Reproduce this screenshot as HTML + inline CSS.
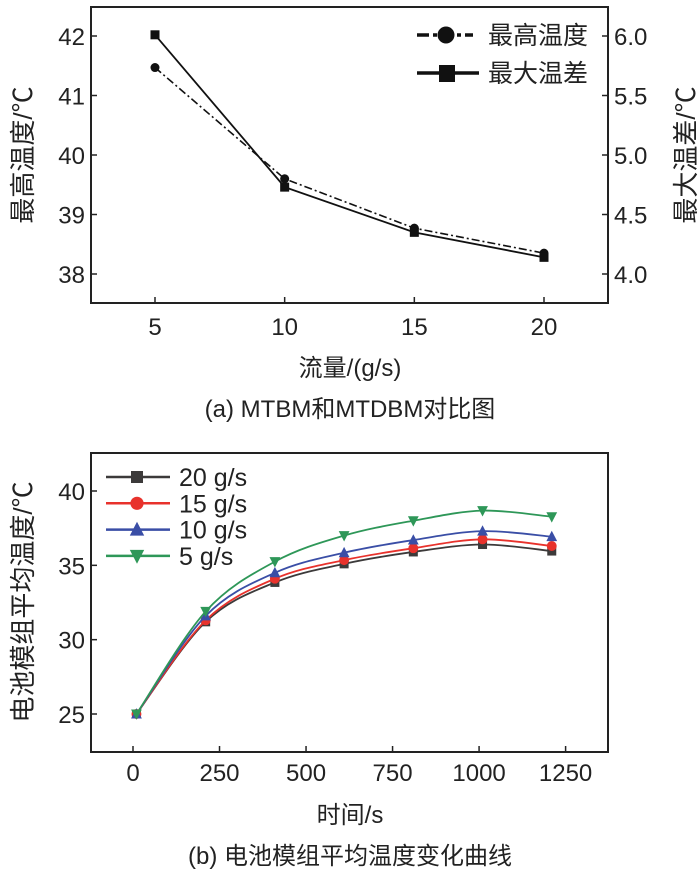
<!DOCTYPE html>
<html><head><meta charset="utf-8"><style>
body{margin:0;background:#fff;}
svg{display:block;font-family:"Liberation Sans","Noto Sans CJK SC",sans-serif;}
text{fill:#222;}
.cj{font-family:"Liberation Serif","Noto Serif CJK SC",serif;}
</style></head><body>
<svg width="700" height="872" viewBox="0 0 700 872">
<g id="top"></g>
<g id="bot"></g>
</svg>
<script>
// Chart (a) data
const flowCats = [5, 10, 15, 20];
const maxTemp = [41.47, 39.6, 38.77, 38.35];
const maxDiff = [6.01, 4.73, 4.35, 4.14];
const leftTicks = [38, 39, 40, 41, 42];
const rightTicks = ["4.0", "4.5", "5.0", "5.5", "6.0"];
const xTicksA = [5, 10, 15, 20];
// Chart (b) data
const times = [10, 210, 410, 610, 810, 1010, 1210];
const seriesNames = ["20 g/s", "15 g/s", "10 g/s", "5 g/s"];
const s20 = [25, 31.2, 33.85, 35.1, 35.9, 36.4, 35.96];
const s15 = [25, 31.3, 34.1, 35.35, 36.15, 36.75, 36.3];
const s10 = [25, 31.6, 34.5, 35.85, 36.7, 37.3, 36.93];
const s5 = [25, 31.9, 35.25, 37.0, 38.0, 38.68, 38.27];
const yTicksB = [25, 30, 35, 40];
const xTicksB = [0, 250, 500, 750, 1000, 1250];

const NS = "http://www.w3.org/2000/svg";
function mk(parent, tag, attrs, txt){
  const e = document.createElementNS(NS, tag);
  for (const k in attrs) e.setAttribute(k, attrs[k]);
  if (txt !== undefined) e.textContent = txt;
  parent.appendChild(e);
  return e;
}
function smooth(pts){
  let d = "M" + pts[0][0] + "," + pts[0][1];
  for (let i = 0; i < pts.length - 1; i++){
    const p0 = pts[i-1] || pts[i], p1 = pts[i], p2 = pts[i+1], p3 = pts[i+2] || p2;
    const c1 = [p1[0] + (p2[0]-p0[0])/6, p1[1] + (p2[1]-p0[1])/6];
    const c2 = [p2[0] - (p3[0]-p1[0])/6, p2[1] - (p3[1]-p1[1])/6];
    d += " C" + c1 + " " + c2 + " " + p2;
  }
  return d;
}

// ---------- Chart A ----------
const A = document.getElementById("top");
const ax = v => 155 + (v - 5) * (544 - 155) / 15;
const ayL = v => 274 - (v - 38) * (274 - 36) / 4;
const ayR = v => 274 - (v - 4) * (274 - 36) / 2;
let e = mk(A, "rect", {x:91, y:7, width:517, height:296, fill:"none", stroke:"#222", "stroke-width":2});


leftTicks.forEach(t => {
  const y = ayL(t);
  let l = mk(A, "line", {x1:91, x2:97, y1:y, y2:y, stroke:"#222", "stroke-width":1.5});
  
  
  let tx = mk(A, "text", {x:85, y:y+9, "font-size":24, "text-anchor":"end"}, t);
  
  
});
rightTicks.forEach(t => {
  const y = ayR(parseFloat(t));
  let l = mk(A, "line", {x1:602, x2:608, y1:y, y2:y, stroke:"#222", "stroke-width":1.5});
  
  
  let tx = mk(A, "text", {x:614, y:y+9, "font-size":24}, t);
  
  
});
xTicksA.forEach(t => {
  const x = ax(t);
  let l = mk(A, "line", {x1:x, x2:x, y1:297, y2:303, stroke:"#222", "stroke-width":1.5});
  
  
  let tx = mk(A, "text", {x:x, y:335, "font-size":24, "text-anchor":"middle"}, t);
  
  
});
e = mk(A, "text", {x:350, y:376, "font-size":24, "text-anchor":"middle"}, "流量/(g/s)");


e = mk(A, "text", {x:350, y:417, "font-size":24, "text-anchor":"middle"}, "(a) MTBM和MTDBM对比图");


e = mk(A, "text", {x:0, y:0, "font-size":26, "text-anchor":"middle", transform:"translate(32,155) rotate(-90)"}, "最高温度/℃");


e = mk(A, "text", {x:0, y:0, "font-size":26, "text-anchor":"middle", transform:"translate(695,155) rotate(-90)"}, "最大温差/℃");


// series
e = mk(A, "polyline", {points: flowCats.map((c,i)=>ax(c)+","+ayL(maxTemp[i])).join(" "), fill:"none", stroke:"#111", "stroke-width":1.6, "stroke-dasharray":"8 3 2 3"});


e = mk(A, "polyline", {points: flowCats.map((c,i)=>ax(c)+","+ayR(maxDiff[i])).join(" "), fill:"none", stroke:"#111", "stroke-width":1.8});


flowCats.forEach((c,i) => {
  let m = mk(A, "circle", {cx:ax(c), cy:ayL(maxTemp[i]), r:4.5, fill:"#111"});
  
  
  m = mk(A, "rect", {x:ax(c)-4.5, y:ayR(maxDiff[i])-4.5, width:9, height:9, fill:"#111"});
  
  
});
// legend
e = mk(A, "g", {});


mk(e, "line", {x1:417, x2:473, y1:35, y2:35, stroke:"#111", "stroke-width":3.5, "stroke-dasharray":"12 4 4 4"});
mk(e, "circle", {cx:446, cy:35, r:8.5, fill:"#111"});
mk(e, "text", {x:488, y:44, "font-size":25}, "最高温度");
mk(e, "line", {x1:417, x2:479, y1:73, y2:73, stroke:"#111", "stroke-width":3.5});
mk(e, "rect", {x:439, y:65, width:16, height:17, fill:"#111"});
mk(e, "text", {x:488, y:82, "font-size":25}, "最大温差");

// ---------- Chart B ----------
const B = document.getElementById("bot");
const bx = v => 133 + v * (565.6 - 133) / 1250;
const by = v => 714 - (v - 25) * (714 - 491) / 15;
e = mk(B, "rect", {x:91, y:453, width:517, height:299, fill:"none", stroke:"#222", "stroke-width":2});


yTicksB.forEach(t => {
  const y = by(t);
  let l = mk(B, "line", {x1:91, x2:97, y1:y, y2:y, stroke:"#222", "stroke-width":1.5});
  
  
  let tx = mk(B, "text", {x:85, y:y+9, "font-size":24, "text-anchor":"end"}, t);
  
  
});
xTicksB.forEach(t => {
  const x = bx(t);
  let l = mk(B, "line", {x1:x, x2:x, y1:746, y2:752, stroke:"#222", "stroke-width":1.5});
  
  
  let tx = mk(B, "text", {x:x, y:781, "font-size":24, "text-anchor":"middle"}, t);
  
  
});
e = mk(B, "text", {x:350, y:823, "font-size":24, "text-anchor":"middle"}, "时间/s");


e = mk(B, "text", {x:350, y:864, "font-size":24, "text-anchor":"middle"}, "(b) 电池模组平均温度变化曲线");


e = mk(B, "text", {x:0, y:0, "font-size":26, "text-anchor":"middle", transform:"translate(32,602) rotate(-90)"}, "电池模组平均温度/℃");



const allS = [s20, s15, s10, s5];
const colors = ["#3c3a3a", "#e8322c", "#3a4ea6", "#2e9758"];
const shapes = ["square", "circle", "tri-up", "tri-down"];
function marker(g, shape, x, y, c, s){
  if (shape === "square") return mk(g, "rect", {x:x-s, y:y-s, width:2*s, height:2*s, fill:c});
  if (shape === "circle") return mk(g, "circle", {cx:x, cy:y, r:s*1.1, fill:c});
  if (shape === "tri-up") return mk(g, "polygon", {points:`${x},${y-s*1.3} ${x-s*1.2},${y+s} ${x+s*1.2},${y+s}`, fill:c});
  return mk(g, "polygon", {points:`${x},${y+s*1.3} ${x-s*1.2},${y-s} ${x+s*1.2},${y-s}`, fill:c});
}
allS.forEach((s, k) => {
  const g = mk(B, "g", {});
  
  
  const pts = times.map((t,i) => [bx(t), by(s[i])]);
  mk(g, "path", {d:smooth(pts), fill:"none", stroke:colors[k], "stroke-width":1.8});
  pts.forEach(p => {
    const m = marker(g, shapes[k], p[0], p[1], colors[k], 4.5);
    
    
  });
  const ly = 477 + k * 26.3;
  const lg = mk(B, "g", {});
  
  
  mk(lg, "line", {x1:106, x2:170, y1:ly, y2:ly, stroke:colors[k], "stroke-width":2.5});
  marker(lg, shapes[k], 137, ly, colors[k], 6);
  mk(lg, "text", {x:179, y:ly+9, "font-size":25}, seriesNames[k]);
});
</script>
</body></html>
